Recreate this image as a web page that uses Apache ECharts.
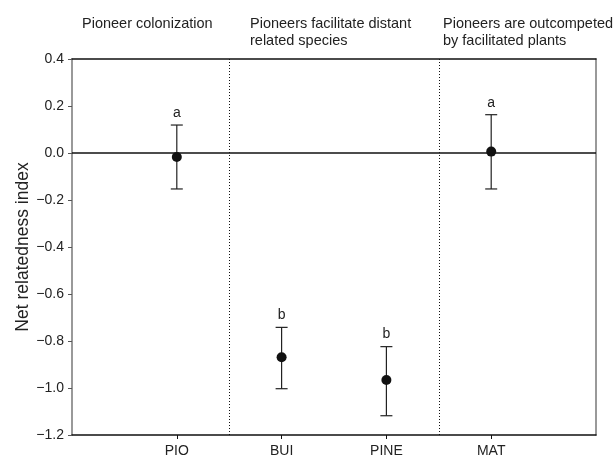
<!DOCTYPE html>
<html>
<head>
<meta charset="utf-8">
<script src="https://cdn.jsdelivr.net/npm/echarts@6/dist/echarts.min.js"></script>
<style>html,body{margin:0;padding:0;background:#fff}#c{width:614px;height:458px}</style>
</head>
<body>
<div id="c"></div>
<script>
const categories = ['PIO', 'BUI', 'PINE', 'MAT'];
const categoryPos = [1, 2, 3, 4];
const means = [-0.017, -0.869, -0.966, 0.006];
const upper = [0.119, -0.742, -0.824, 0.163];
const lower = [-0.153, -1.003, -1.118, -0.153];
const letters = ['a', 'b', 'b', 'a'];
const dividers = [1.5, 3.5];
const phaseTitles = [
  'Pioneer colonization',
  'Pioneers facilitate distant\nrelated species',
  'Pioneers are outcompeted\nby facilitated plants'
];

const font = 'Liberation Sans, Arial, Helvetica, sans-serif';
const chart = echarts.init(document.getElementById('c'), null, {renderer: 'canvas'});

const errData = categoryPos.map((x, i) => [x, lower[i], upper[i]]);
const dotData = categoryPos.map((x, i) => [x, means[i]]);
const letterData = categoryPos.map((x, i) => [x, upper[i]]);

function fmt(v) {
  const s = Math.abs(v).toFixed(1);
  return (v < -1e-9 ? '\u2212' : '') + s;
}

chart.setOption({
  animation: false,
  backgroundColor: '#fff',
  textStyle: {fontFamily: font},
  grid: {left: 72, right: 18, top: 59, bottom: 23, containLabel: false},
  graphic: [
    {type: 'text', left: 82, top: 15, style: {text: phaseTitles[0], font: '14.5px ' + font, fill: '#222', lineHeight: 17}},
    {type: 'text', left: 250, top: 15, style: {text: phaseTitles[1], font: '14.5px ' + font, fill: '#222', lineHeight: 17}},
    {type: 'text', left: 443, top: 15, style: {text: phaseTitles[2], font: '14.5px ' + font, fill: '#222', lineHeight: 17}}
  ],
  xAxis: [{
    type: 'value', min: 0, max: 5, interval: 1,
    splitLine: {show: false},
    axisLine: {show: true, onZero: false, lineStyle: {color: '#111', width: 1.5}},
    axisTick: {show: true, inside: false, length: 4, customValues: categoryPos, lineStyle: {color: '#111'}},
    axisLabel: {
      customValues: categoryPos,
      formatter: v => categories[categoryPos.indexOf(Math.round(v))] || '',
      color: '#222', fontSize: 14, margin: 9, fontFamily: font
    }
  }, {
    type: 'value', position: 'top', min: 0, max: 5,
    splitLine: {show: false},
    axisLine: {show: true, onZero: false, lineStyle: {color: '#111', width: 1.5}},
    axisTick: {show: false}, axisLabel: {show: false}
  }],
  yAxis: [{
    type: 'value', min: -1.2, max: 0.4, interval: 0.2,
    name: 'Net relatedness index', nameLocation: 'middle', nameGap: 40, nameRotate: 90,
    nameMoveOverlap: false,
    nameTextStyle: {fontSize: 17.5, color: '#222', fontFamily: font},
    splitLine: {show: false},
    axisLine: {show: true, onZero: false, lineStyle: {color: '#777', width: 1.5}},
    axisTick: {show: true, length: 4, lineStyle: {color: '#555'}},
    axisLabel: {formatter: fmt, color: '#222', fontSize: 14, margin: 8, fontFamily: font}
  }, {
    type: 'value', position: 'right', min: -1.2, max: 0.4, interval: 0.2,
    splitLine: {show: false},
    axisLine: {show: true, onZero: false, lineStyle: {color: '#777', width: 1.5}},
    axisTick: {show: false}, axisLabel: {show: false}
  }],
  series: [
    {
      type: 'line', data: [], silent: true,
      markLine: {
        silent: true, symbol: 'none', label: {show: false},
        data: [
          {yAxis: 0, lineStyle: {color: '#111', width: 1.5, type: 'solid'}},
          ...dividers.map(d => ({xAxis: d, lineStyle: {color: '#111', width: 1, type: [1, 2]}}))
        ]
      }
    },
    {
      type: 'custom', data: errData, silent: true, z: 3,
      renderItem: function (params, api) {
        const x = api.value(0);
        const lo = api.coord([x, api.value(1)]);
        const hi = api.coord([x, api.value(2)]);
        const w = 6;
        const st = {stroke: '#222', lineWidth: 1.2};
        return {
          type: 'group', children: [
            {type: 'line', shape: {x1: lo[0], y1: lo[1], x2: hi[0], y2: hi[1]}, style: st},
            {type: 'line', shape: {x1: lo[0] - w, y1: lo[1], x2: lo[0] + w, y2: lo[1]}, style: st},
            {type: 'line', shape: {x1: hi[0] - w, y1: hi[1], x2: hi[0] + w, y2: hi[1]}, style: st}
          ]
        };
      }
    },
    {
      type: 'scatter', data: dotData, symbol: 'circle', symbolSize: 10, z: 4,
      itemStyle: {color: '#111', opacity: 1}
    },
    {
      type: 'custom', data: letterData, silent: true, z: 4,
      renderItem: function (params, api) {
        const p = api.coord([api.value(0), api.value(1)]);
        return {
          type: 'text',
          style: {
            text: letters[params.dataIndex], x: p[0], y: p[1] - 12,
            align: 'center', verticalAlign: 'middle',
            font: '14px ' + font, fill: '#222'
          }
        };
      }
    }
  ]
});
</script>
</body>
</html>
